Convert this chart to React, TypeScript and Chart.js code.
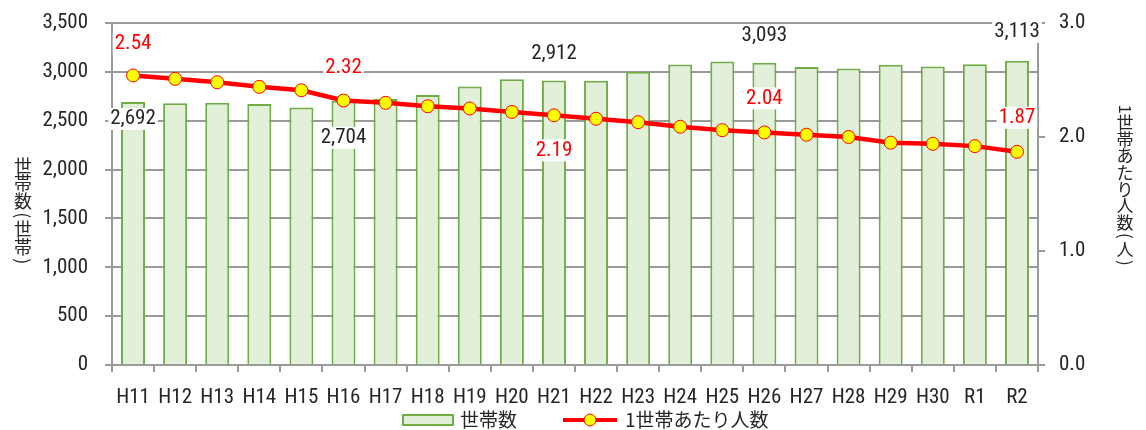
import React, { useEffect, useRef } from "react";
import { Chart, registerables } from "chart.js";

Chart.register(...registerables);

const categories = ["H11","H12","H13","H14","H15","H16","H17","H18","H19","H20","H21","H22","H23","H24","H25","H26","H27","H28","H29","H30","R1","R2"];
const households = [2692,2678,2683,2670,2636,2704,2721,2762,2850,2925,2912,2910,3000,3075,3105,3093,3050,3035,3072,3055,3078,3113];
const perHousehold = [2.54,2.51,2.48,2.44,2.41,2.32,2.30,2.27,2.25,2.22,2.19,2.16,2.13,2.09,2.06,2.04,2.02,2.00,1.95,1.94,1.92,1.87];

const barLabel = "世帯数";
const lineLabel = "1世帯あたり人数";
const leftTitle = "世帯数(世帯)";
const rightTitle = "1世帯あたり人数(人)";

// indices of annotated points
const labeledIdx = [0, 5, 10, 15, 21];
// label vertical offsets (px) relative to the mark
const barLabelDy = [17, 37, -27, -27, -29];
const lineLabelDy = [-32, -33, 35, -34, -34];

const FONT = "'Liberation Sans Narrow', 'Roboto Condensed', 'DejaVu Sans Condensed', 'Noto Sans CJK JP', sans-serif";
const CJK = "'Noto Sans CJK JP', sans-serif";
const TEXT = "#262626";
const GRID = "#9a9a9a";
const BAR_FILL = "#e2efd9";
const BAR_BORDER = "#70ad47";
const RED = "#ff0000";
const YELLOW = "#ffff00";

function drawVertical(ctx: CanvasRenderingContext2D, text: string, x: number, yStart: number, size: number) {
  ctx.save();
  ctx.font = `${size}px ${CJK}`;
  ctx.fillStyle = TEXT;
  ctx.textAlign = "center";
  ctx.textBaseline = "middle";
  let y = yStart;
  for (const ch of Array.from(text)) {
    const rot = /[()1]/.test(ch);
    const adv = rot ? size * 0.6 : size * 0.98;
    if (rot) {
      ctx.save();
      ctx.translate(x, y + adv / 2);
      ctx.rotate(Math.PI / 2);
      ctx.fillText(ch, 0, 0);
      ctx.restore();
    } else {
      ctx.fillText(ch, x, y + adv / 2);
    }
    y += adv;
  }
  ctx.restore();
}

function labelWithBg(ctx: CanvasRenderingContext2D, text: string, x: number, y: number, color: string) {
  const w = ctx.measureText(text).width;
  ctx.fillStyle = "#ffffff";
  ctx.fillRect(x - w / 2 - 2, y - 11, w + 4, 22);
  ctx.fillStyle = color;
  ctx.fillText(text, x, y);
}

const decorPlugin = {
  id: "decor",
  afterDatasetsDraw(chart: any) {
    const ctx = chart.ctx as CanvasRenderingContext2D;
    const xs = chart.scales.x;
    const yl = chart.scales.y;
    const yr = chart.scales.y1;
    ctx.save();
    ctx.font = `21px ${FONT}`;
    ctx.textAlign = "center";
    ctx.textBaseline = "middle";
    labeledIdx.forEach((i, k) => {
      const x = xs.getPixelForValue(i);
      labelWithBg(ctx, households[i].toLocaleString("en-US"), x, yl.getPixelForValue(households[i]) + barLabelDy[k], TEXT);
      labelWithBg(ctx, perHousehold[i].toFixed(2), x, yr.getPixelForValue(perHousehold[i]) + lineLabelDy[k], RED);
    });
    ctx.restore();
  },
  afterDraw(chart: any) {
    const ctx = chart.ctx as CanvasRenderingContext2D;
    drawVertical(ctx, leftTitle, 23, 157, 18);
    drawVertical(ctx, rightTitle, 1125, 104, 17);
    // legend
    const ly = 420;
    ctx.save();
    ctx.fillStyle = BAR_FILL;
    ctx.strokeStyle = BAR_BORDER;
    ctx.lineWidth = 2;
    ctx.fillRect(403, ly - 5, 50, 10);
    ctx.strokeRect(403, ly - 5, 50, 10);
    ctx.font = `19px ${CJK}`;
    ctx.fillStyle = TEXT;
    ctx.textAlign = "left";
    ctx.textBaseline = "middle";
    ctx.fillText(barLabel, 460, ly);
    ctx.strokeStyle = RED;
    ctx.lineWidth = 4;
    ctx.beginPath();
    ctx.moveTo(563, ly);
    ctx.lineTo(617, ly);
    ctx.stroke();
    ctx.beginPath();
    ctx.arc(590, ly, 6, 0, Math.PI * 2);
    ctx.fillStyle = YELLOW;
    ctx.fill();
    ctx.lineWidth = 1;
    ctx.stroke();
    ctx.fillStyle = TEXT;
    ctx.fillText(lineLabel, 625, ly);
    ctx.restore();
  },
};

export default function App() {
  const ref = useRef<HTMLCanvasElement | null>(null);
  useEffect(() => {
    document.body.style.margin = "0";
    const chart = new Chart(ref.current as HTMLCanvasElement, {
      type: "bar",
      data: {
        labels: categories,
        datasets: [
          {
            type: "line",
            label: lineLabel,
            data: perHousehold,
            yAxisID: "y1",
            borderColor: RED,
            borderWidth: 4.5,
            pointRadius: 6.5,
            pointBackgroundColor: YELLOW,
            pointBorderColor: RED,
            pointBorderWidth: 1,
            tension: 0,
            order: 0,
          } as any,
          {
            type: "bar",
            label: barLabel,
            data: households,
            yAxisID: "y",
            backgroundColor: BAR_FILL,
            borderColor: BAR_BORDER,
            borderWidth: 2,
            barPercentage: 0.57,
            categoryPercentage: 1,
            order: 1,
          } as any,
        ],
      },
      options: {
        animation: false,
        responsive: true,
        maintainAspectRatio: false,
        layout: { autoPadding: false, padding: { top: 23, bottom: 25, left: 0, right: 0 } },
        plugins: { legend: { display: false }, tooltip: { enabled: false } },
        scales: {
          x: {
            afterFit: (s: any) => { s.height = 40; },
            grid: { offset: true, drawOnChartArea: false, drawTicks: true, tickLength: 7, color: GRID, lineWidth: 2 },
            border: { color: GRID, width: 2 },
            ticks: { color: TEXT, font: { family: FONT, size: 21 }, padding: 13, maxRotation: 0, autoSkip: false },
          },
          y: {
            position: "left",
            min: 0,
            max: 3500,
            afterFit: (s: any) => { s.width = 112; },
            grid: { color: GRID, lineWidth: 2, tickLength: 7 },
            border: { color: GRID, width: 2 },
            ticks: {
              stepSize: 500,
              color: TEXT,
              font: { family: FONT, size: 21, lineHeight: 0.2 },
              padding: 17,
              callback: (v: any) => Number(v).toLocaleString("en-US"),
            },
          },
          y1: {
            position: "right",
            min: 0,
            max: 3,
            afterFit: (s: any) => { s.width = 108; },
            grid: { drawOnChartArea: false, color: GRID, lineWidth: 2, tickLength: 7 },
            border: { color: GRID, width: 2 },
            ticks: {
              stepSize: 1,
              color: TEXT,
              font: { family: FONT, size: 21, lineHeight: 0.2 },
              padding: 14,
              callback: (v: any) => Number(v).toFixed(1),
            },
          },
        },
      },
      plugins: [decorPlugin],
    });
    return () => chart.destroy();
  }, []);
  return (
    <div style={{ position: "relative", width: 1146, height: 430 }}>
      <canvas ref={ref} />
    </div>
  );
}
